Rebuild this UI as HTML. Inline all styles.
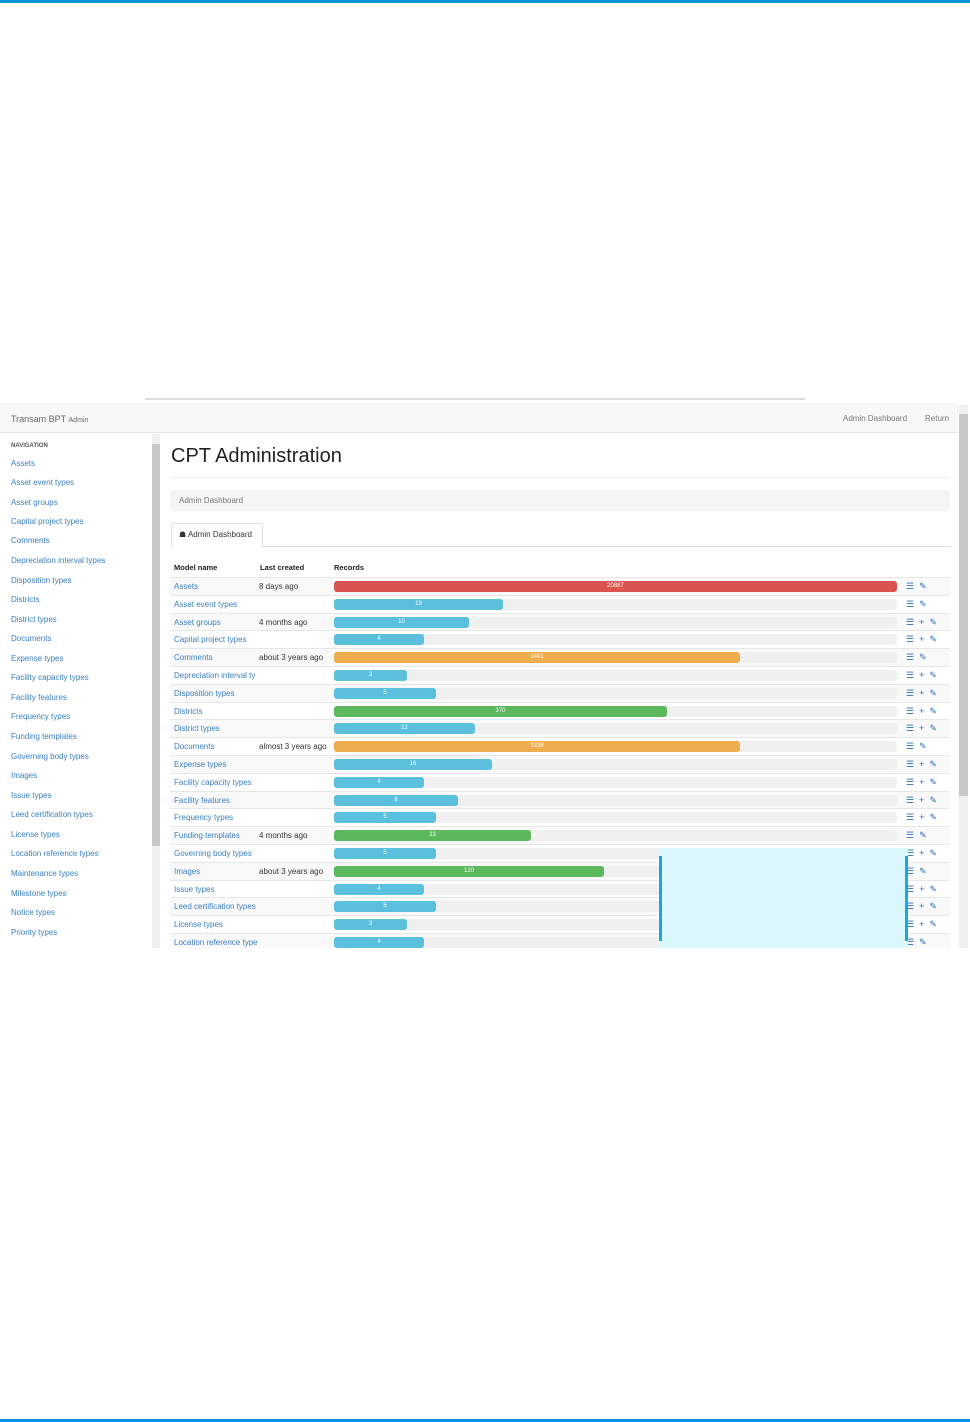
<!DOCTYPE html>
<html><head><meta charset="utf-8"><style>
*{margin:0;padding:0;box-sizing:border-box}
body{width:970px;height:1422px;position:relative;background:#fff;font-family:"Liberation Sans",sans-serif;overflow:hidden}
.a{position:absolute}
.nav{position:absolute;left:11px;font-size:8px;color:#3a7fc1;white-space:nowrap}
.row{position:absolute;left:170px;width:780px;height:17.8px;border-top:1px solid #e6e6e6}
.row.z{background:#f9f9f9}
.row .n{position:absolute;left:4px;top:4px;font-size:8px;color:#3a7fc1;white-space:nowrap;width:86px;overflow:hidden}
.row .d{position:absolute;left:89px;top:4px;font-size:8px;color:#333;white-space:nowrap}
.row .t{position:absolute;left:164px;top:3px;width:563px;height:11px;background:#f0f0f0;border-radius:3px}
.row .b{position:absolute;left:0;top:0;height:11px;border-radius:3px;color:#fff;font-size:6px;text-align:center;line-height:11px}
.row .i{position:absolute;left:736px;top:3px;font-size:9px;color:#2a6fb8;white-space:nowrap;letter-spacing:5px}
.R{background:#d9534f}.B{background:#5bc0de}.O{background:#f0ad4e}.G{background:#5cb85c}
</style></head><body>
<div class="a" style="left:0;top:0;width:970px;height:3px;background:#0095d9"></div>
<div class="a" style="left:0;top:1419px;width:970px;height:3px;background:#0095d9"></div>

<div class="a" style="left:145px;top:398px;width:660px;height:2px;background:#ddd"></div>
<div class="a" style="left:0;top:403px;width:958px;height:30px;background:#f8f8f8;border-bottom:1px solid #e5e5e5"></div>
<div class="a" style="left:11px;top:414px;font-size:9px;color:#666">Transam BPT <span style="font-size:7px">Admin</span></div>
<div class="a" style="left:843px;top:414px;font-size:8px;color:#777">Admin Dashboard</div>
<div class="a" style="left:925px;top:414px;font-size:8px;color:#777">Return</div>

<div class="a" style="left:152px;top:434px;width:8px;height:514px;background:#f0f0f0"></div>
<div class="a" style="left:152px;top:444px;width:8px;height:402px;background:#c8c8c8"></div>
<div class="a" style="left:959px;top:405px;width:9px;height:543px;background:#f0f0f0"></div>
<div class="a" style="left:959px;top:414px;width:9px;height:382px;background:#c8c8c8"></div>

<div class="a" style="left:11px;top:443px;font-size:6px;color:#555;font-weight:bold">NAVIGATION</div>
<div class="nav" style="top:459px">Assets</div>
<div class="nav" style="top:478px">Asset event types</div>
<div class="nav" style="top:498px">Asset groups</div>
<div class="nav" style="top:517px">Capital project types</div>
<div class="nav" style="top:536px">Comments</div>
<div class="nav" style="top:556px">Depreciation interval types</div>
<div class="nav" style="top:576px">Disposition types</div>
<div class="nav" style="top:595px">Districts</div>
<div class="nav" style="top:615px">District types</div>
<div class="nav" style="top:634px">Documents</div>
<div class="nav" style="top:654px">Expense types</div>
<div class="nav" style="top:673px">Facility capacity types</div>
<div class="nav" style="top:693px">Facility features</div>
<div class="nav" style="top:712px">Frequency types</div>
<div class="nav" style="top:732px">Funding templates</div>
<div class="nav" style="top:752px">Governing body types</div>
<div class="nav" style="top:771px">Images</div>
<div class="nav" style="top:791px">Issue types</div>
<div class="nav" style="top:810px">Leed certification types</div>
<div class="nav" style="top:830px">License types</div>
<div class="nav" style="top:849px">Location reference types</div>
<div class="nav" style="top:869px">Maintenance types</div>
<div class="nav" style="top:889px">Milestone types</div>
<div class="nav" style="top:908px">Notice types</div>
<div class="nav" style="top:928px">Priority types</div>

<div class="a" style="left:171px;top:445px;font-size:20px;color:#222">CPT Administration</div>
<div class="a" style="left:170px;top:477px;width:780px;height:1px;background:#eee"></div>
<div class="a" style="left:170px;top:490px;width:780px;height:21px;background:#f5f5f5;border-radius:3px"></div>
<div class="a" style="left:179px;top:496px;font-size:8px;color:#777">Admin Dashboard</div>
<div class="a" style="left:170px;top:546px;width:780px;height:1px;background:#ddd"></div>
<div class="a" style="left:171px;top:523px;width:92px;height:24px;background:#fff;border:1px solid #ddd;border-bottom:none;border-radius:3px 3px 0 0"></div>
<div class="a" style="left:179px;top:530px;font-size:8px;color:#333">&#9751; Admin Dashboard</div>

<div class="a" style="left:174px;top:563px;font-size:7.5px;font-weight:bold;color:#222">Model name</div>
<div class="a" style="left:260px;top:563px;font-size:7.5px;font-weight:bold;color:#222">Last created</div>
<div class="a" style="left:334px;top:563px;font-size:7.5px;font-weight:bold;color:#222">Records</div>

<div class="row z" style="top:577px"><div class="n">Assets</div><div class="d">8 days ago</div><div class="t"><div class="b R" style="width:563px">20887</div></div><div class="i">☰✎</div></div>
<div class="row" style="top:594.8px"><div class="n">Asset event types</div><div class="t"><div class="b B" style="width:169px">19</div></div><div class="i">☰✎</div></div>
<div class="row z" style="top:612.6px"><div class="n">Asset groups</div><div class="d">4 months ago</div><div class="t"><div class="b B" style="width:135px">10</div></div><div class="i">☰+✎</div></div>
<div class="row" style="top:630.4px"><div class="n">Capital project types</div><div class="t"><div class="b B" style="width:90px">4</div></div><div class="i">☰+✎</div></div>
<div class="row z" style="top:648.2px"><div class="n">Comments</div><div class="d">about 3 years ago</div><div class="t"><div class="b O" style="width:406px">1401</div></div><div class="i">☰✎</div></div>
<div class="row" style="top:666px"><div class="n">Depreciation interval ty</div><div class="t"><div class="b B" style="width:73px">3</div></div><div class="i">☰+✎</div></div>
<div class="row z" style="top:683.8px"><div class="n">Disposition types</div><div class="t"><div class="b B" style="width:102px">5</div></div><div class="i">☰+✎</div></div>
<div class="row" style="top:701.6px"><div class="n">Districts</div><div class="t"><div class="b G" style="width:333px">370</div></div><div class="i">☰+✎</div></div>
<div class="row z" style="top:719.4px"><div class="n">District types</div><div class="t"><div class="b B" style="width:141px">12</div></div><div class="i">☰+✎</div></div>
<div class="row" style="top:737.2px"><div class="n">Documents</div><div class="d">almost 3 years ago</div><div class="t"><div class="b O" style="width:406px">1338</div></div><div class="i">☰✎</div></div>
<div class="row z" style="top:755px"><div class="n">Expense types</div><div class="t"><div class="b B" style="width:158px">16</div></div><div class="i">☰+✎</div></div>
<div class="row" style="top:772.8px"><div class="n">Facility capacity types</div><div class="t"><div class="b B" style="width:90px">4</div></div><div class="i">☰+✎</div></div>
<div class="row z" style="top:790.6px"><div class="n">Facility features</div><div class="t"><div class="b B" style="width:124px">8</div></div><div class="i">☰+✎</div></div>
<div class="row" style="top:808.4px"><div class="n">Frequency types</div><div class="t"><div class="b B" style="width:102px">5</div></div><div class="i">☰+✎</div></div>
<div class="row z" style="top:826.2px"><div class="n">Funding templates</div><div class="d">4 months ago</div><div class="t"><div class="b G" style="width:197px">33</div></div><div class="i">☰✎</div></div>
<div class="row" style="top:844px"><div class="n">Governing body types</div><div class="t"><div class="b B" style="width:102px">5</div></div><div class="i">☰+✎</div></div>
<div class="row z" style="top:861.8px"><div class="n">Images</div><div class="d">about 3 years ago</div><div class="t"><div class="b G" style="width:270px">120</div></div><div class="i">☰✎</div></div>
<div class="row" style="top:879.6px"><div class="n">Issue types</div><div class="t"><div class="b B" style="width:90px">4</div></div><div class="i">☰+✎</div></div>
<div class="row z" style="top:897.4px"><div class="n">Leed certification types</div><div class="t"><div class="b B" style="width:102px">5</div></div><div class="i">☰+✎</div></div>
<div class="row" style="top:915.2px"><div class="n">License types</div><div class="t"><div class="b B" style="width:73px">3</div></div><div class="i">☰+✎</div></div>
<div class="row z" style="top:933px;height:15px"><div class="n">Location reference type</div><div class="t"><div class="b B" style="width:90px">4</div></div><div class="i">☰✎</div></div>

<div class="a" style="left:659px;top:848px;width:249px;height:100px;background:#dbf9fd"></div>
<div class="a" style="left:659px;top:856px;width:3px;height:85px;background:#1ba8d8"></div>
<div class="a" style="left:905px;top:856px;width:3px;height:85px;background:#1ba8d8"></div>
</body></html>
